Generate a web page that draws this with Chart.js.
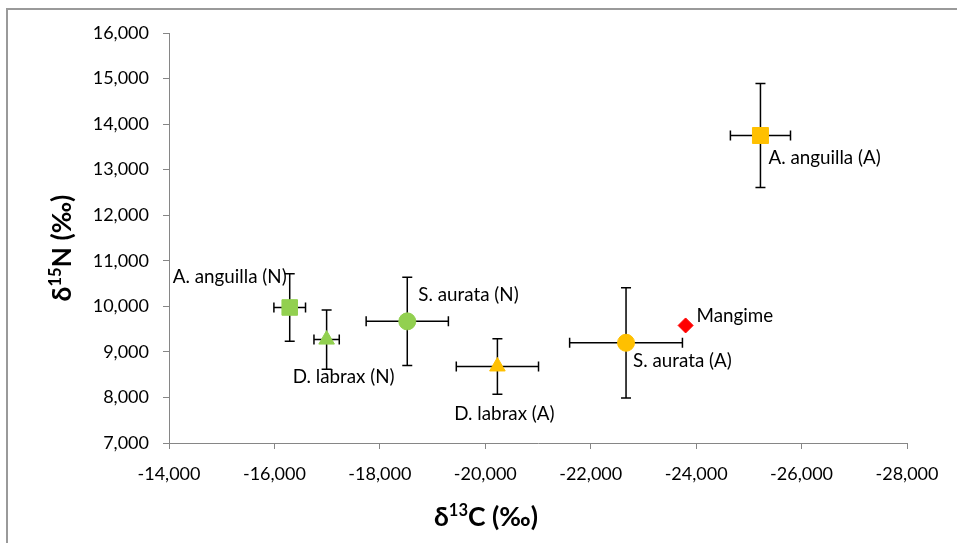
<!DOCTYPE html>
<html>
<head>
<meta charset="utf-8">
<script src="https://cdn.jsdelivr.net/npm/chart.js@4.4.1/dist/chart.umd.min.js"></script>
<style>
    html, body { margin: 0; padding: 0; background: #fff; }
    #chart { display: block; }
</style>
</head>
<body>
<canvas id="chart" width="957" height="543"></canvas>
<script>
// Samples and their mean isotope values (axis units as printed on the chart)
const sampleNames = ['A. anguilla (N)', 'D. labrax (N)', 'S. aurata (N)', 'D. labrax (A)', 'A. anguilla (A)', 'S. aurata (A)', 'Mangime'];
const carbonValues = [-16290, -16990, -18520, -20230, -25220, -22670, -23800];
const nitrogenValues = [9975, 9270, 9670, 8680, 13750, 9200, 9580];
// Standard deviations (0 = no error bar)
const carbonSd = [300, 240, 780, 780, 570, 1070, 0];
const nitrogenSd = [740, 650, 970, 610, 1140, 1210, 0];

// Axis ranges
const xMin = -28000, xMax = -14000, xStep = 2000;
const yMin = 7000, yMax = 16000, yStep = 1000;

// Marker styles
const GREEN = '#92D050';
const ORANGE = '#FFC000';
const RED = '#FF0000';
const markerColors = [GREEN, GREEN, GREEN, ORANGE, ORANGE, ORANGE, RED];
const markerShapes = ['rect', 'triangle', 'circle', 'triangle', 'rect', 'circle', 'rectRot'];
const markerRadius = [11, 9, 8.5, 9, 11.3, 8.5, 7.5];

// Where each label sits relative to its marker (px)
const labelPlacement = [
    { dx: -3, dy: -31, align: 'right' },
    { dx: 17, dy: 37, align: 'center' },
    { dx: 11, dy: -26, align: 'left' },
    { dx: 7, dy: 47, align: 'center' },
    { dx: 8, dy: 22, align: 'left' },
    { dx: 7, dy: 18, align: 'left' },
    { dx: 11, dy: -10, align: 'left' }
];

const FONT = 'Lato, "Open Sans", sans-serif';
const AXIS_GREY = '#868686';
const TEXT = '#000';

const fmt = v => v.toLocaleString('en-US', { minimumFractionDigits: 0 });

// Outer frame like the exported chart area
const framePlugin = {
    id: 'frame',
    beforeDraw(chart) {
        const ctx = chart.ctx;
        ctx.save();
        ctx.strokeStyle = '#9a9a9a';
        ctx.lineWidth = 2;
        ctx.strokeRect(7, 9, 2000, 2000);
        ctx.restore();
    }
};

// Error bars with end caps, drawn under the markers
const errorBarPlugin = {
    id: 'errorBars',
    beforeDatasetsDraw(chart) {
        const { ctx, scales: { x, y } } = chart;
        const cap = 5;
        ctx.save();
        ctx.strokeStyle = '#000';
        ctx.lineWidth = 1.5;
        carbonValues.forEach((c, i) => {
            const n = nitrogenValues[i];
            const px = x.getPixelForValue(c);
            const py = y.getPixelForValue(n);
            ctx.beginPath();
            if (carbonSd[i]) {
                const x1 = x.getPixelForValue(c - carbonSd[i]);
                const x2 = x.getPixelForValue(c + carbonSd[i]);
                ctx.moveTo(x1, py); ctx.lineTo(x2, py);
                ctx.moveTo(x1, py - cap); ctx.lineTo(x1, py + cap);
                ctx.moveTo(x2, py - cap); ctx.lineTo(x2, py + cap);
            }
            if (nitrogenSd[i]) {
                const y1 = y.getPixelForValue(n - nitrogenSd[i]);
                const y2 = y.getPixelForValue(n + nitrogenSd[i]);
                ctx.moveTo(px, y1); ctx.lineTo(px, y2);
                ctx.moveTo(px - cap, y1); ctx.lineTo(px + cap, y1);
                ctx.moveTo(px - cap, y2); ctx.lineTo(px + cap, y2);
            }
            ctx.stroke();
        });
        ctx.restore();
    }
};

// Sample names next to the markers
const pointLabelPlugin = {
    id: 'pointLabels',
    afterDatasetsDraw(chart) {
        const { ctx, scales: { x, y } } = chart;
        ctx.save();
        ctx.font = '18.8px ' + FONT;
        ctx.fillStyle = TEXT;
        ctx.textBaseline = 'middle';
        sampleNames.forEach((name, i) => {
            const p = labelPlacement[i];
            ctx.textAlign = p.align;
            ctx.fillText(name,
                x.getPixelForValue(carbonValues[i]) + p.dx,
                y.getPixelForValue(nitrogenValues[i]) + p.dy);
        });
        ctx.restore();
    }
};

// Draw "δ" + superscript + rest, centred on (cx, cy)
function drawIsotopeTitle(ctx, cx, cy, sup, rest, rotate) {
    const big = 'bold 26.5px ' + FONT;
    const small = 'bold 16.5px ' + FONT;
    ctx.save();
    ctx.translate(cx, cy);
    if (rotate) ctx.rotate(-Math.PI / 2);
    ctx.fillStyle = TEXT;
    ctx.textBaseline = 'alphabetic';
    ctx.textAlign = 'left';
    ctx.font = big;
    const w1 = ctx.measureText('δ').width;
    const w3 = ctx.measureText(rest).width;
    ctx.font = small;
    const w2 = ctx.measureText(sup).width;
    let xPos = -(w1 + w2 + w3) / 2;
    const base = 9;
    ctx.font = big;
    ctx.fillText('δ', xPos, base);
    xPos += w1;
    ctx.font = small;
    ctx.fillText(sup, xPos, base - 10);
    xPos += w2;
    ctx.font = big;
    ctx.fillText(rest, xPos, base);
    ctx.restore();
}

const axisTitlePlugin = {
    id: 'axisTitles',
    afterDraw(chart) {
        const ctx = chart.ctx;
        drawIsotopeTitle(ctx, 486, 517, '13', 'C (‰)', false);
        drawIsotopeTitle(ctx, 62, 248, '15', 'N (‰)', true);
    }
};

const datasets = sampleNames.map((name, i) => ({
    label: name,
    data: [{ x: carbonValues[i], y: nitrogenValues[i] }],
    pointStyle: markerShapes[i],
    pointRadius: markerRadius[i],
    pointBackgroundColor: markerColors[i],
    pointBorderColor: markerColors[i],
    pointBorderWidth: 1,
    showLine: false
}));

const ctx = document.getElementById('chart').getContext('2d');
new Chart(ctx, {
    type: 'scatter',
    data: { datasets: datasets },
    plugins: [framePlugin, errorBarPlugin, pointLabelPlugin, axisTitlePlugin],
    options: {
        responsive: false,
        animation: false,
        layout: { padding: { top: 33, right: 50, left: 0, bottom: 0 } },
        plugins: {
            legend: { display: false },
            tooltip: { enabled: false }
        },
        scales: {
            x: {
                type: 'linear',
                reverse: true,
                min: xMin,
                max: xMax,
                afterFit(scale) { scale.height = 100; },
                ticks: {
                    stepSize: xStep,
                    padding: 14,
                    color: TEXT,
                    font: { family: FONT, size: 18 },
                    maxRotation: 0,
                    callback: v => fmt(v)
                },
                grid: { drawOnChartArea: false, tickLength: 6, color: AXIS_GREY },
                border: { color: AXIS_GREY, width: 1 }
            },
            y: {
                type: 'linear',
                min: yMin,
                max: yMax,
                afterFit(scale) { scale.width = 169; },
                ticks: {
                    stepSize: yStep,
                    padding: 14,
                    color: TEXT,
                    font: { family: FONT, size: 18 },
                    callback: v => fmt(v)
                },
                grid: { drawOnChartArea: false, tickLength: 6, color: AXIS_GREY },
                border: { color: AXIS_GREY, width: 1 }
            }
        }
    }
});
</script>
</body>
</html>
